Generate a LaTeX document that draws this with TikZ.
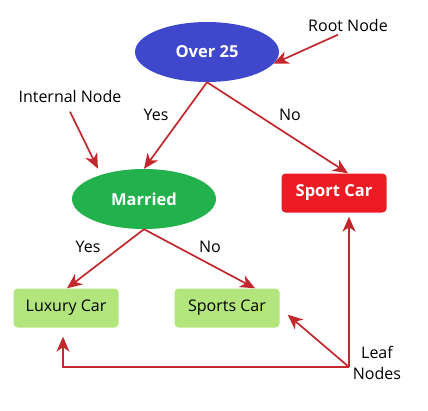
\documentclass[tikz,border=0pt]{standalone}
\usepackage{fontspec}
\setmainfont{Open Sans}
\usetikzlibrary{shapes.geometric,positioning,calc,arrows.meta}

\definecolor{rootblue}{RGB}{63,72,204}
\definecolor{midgreen}{RGB}{34,177,76}
\definecolor{sportred}{RGB}{237,28,36}
\definecolor{leafgreen}{RGB}{178,229,123}
\definecolor{arrred}{RGB}{193,39,45}

\tikzset{
    decision/.style={ellipse, minimum width=144pt, minimum height=60pt, inner sep=0pt,
        text=white, font=\fontsize{16.5}{19}\selectfont\bfseries},
    leafbox/.style={rectangle, rounded corners=4pt, minimum width=105pt, minimum height=39pt,
        inner sep=0pt, fill=leafgreen, font=\fontsize{16}{19}\selectfont},
    lbl/.style={font=\fontsize{16}{21}\selectfont, align=center},
    arr/.style={-{Stealth[length=15pt,width=13pt,inset=4.5pt]}, line width=1.7pt, draw=arrred}
}

\begin{document}
\begin{tikzpicture}[x=1pt, y=-1pt]
    \useasboundingbox (0,0) rectangle (428,410);

    % Decision nodes
    \node[decision, fill=rootblue] (over) at (207,52) {Over 25};
    \node[decision, fill=midgreen] (married) at (144,199) {Married};

    % Leaves
    \node[leafbox, fill=sportred, text=white, font=\fontsize{16.5}{19}\selectfont\bfseries] (sport) at (334,193) {Sport Car};
    \node[leafbox] (luxury) at (66,308) {Luxury Car};
    \node[leafbox] (sports) at (227,308) {Sports Car};

    % Annotation labels
    \node[lbl] (rootlbl) at (348,25) {Root Node};
    \node[lbl] (intlbl) at (70,96) {Internal Node};
    \node[lbl] (leaflbl) at (377,363) {Leaf\\Nodes};

    % Branch labels
    \node[lbl] (yes1) at (156,115) {Yes};
    \node[lbl] (no1) at (290,115) {No};
    \node[lbl] (yes2) at (88,247) {Yes};
    \node[lbl] (no2) at (210,247) {No};

    % Tree edges
    \draw[arr] (over.south) -- (married.north);
    \draw[arr] (over.south) -- ([xshift=14pt]sport.north);
    \draw[arr] (married.south) -- ([xshift=1pt]luxury.north) ;
    \draw[arr] (married.south) -- ([xshift=28pt]sports.north);

    % Pointers from the annotations
    \draw[arr] ([xshift=-10pt]rootlbl.south) -- (over.-10);
    \draw[arr] ([yshift=-6pt]intlbl.south) -- ([shift={(-7pt,5pt)}]married.147);

    \coordinate (leafc) at (349,367);
    \draw[arr] (leafc) -- ([yshift=-4pt]leafc |- sport.south);
    \draw[arr] (leafc) -- ([shift={(8,-13)}]sports.south east);
    \draw[arr, shorten >=9pt] (leafc) -| ([xshift=-3pt]luxury.south);
\end{tikzpicture}
\end{document}
